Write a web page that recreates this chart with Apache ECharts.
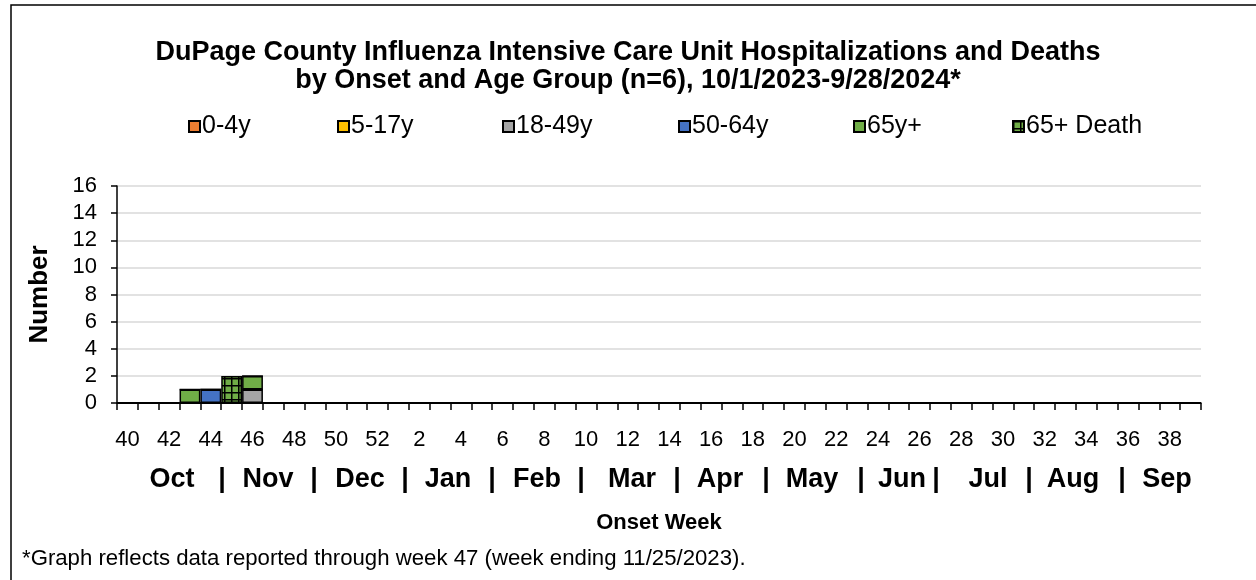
<!DOCTYPE html>
<html>
<head>
<meta charset="utf-8">
<script src="https://cdn.jsdelivr.net/npm/echarts@6/dist/echarts.min.js"></script>
<style>
  html, body { margin: 0; padding: 0; background: #fff; }
  #chart { width: 1256px; height: 580px; }
</style>
</head>
<body>
<div id="chart"></div>
<script>
// onset weeks, Oct 2023 (wk 40) to Sep 2024 (wk 39)
const weeks = [40, 41, 42, 43, 44, 45, 46, 47, 48, 49, 50, 51, 52,
  1, 2, 3, 4, 5, 6, 7, 8, 9, 10, 11, 12, 13, 14, 15, 16, 17, 18, 19, 20,
  21, 22, 23, 24, 25, 26, 27, 28, 29, 30, 31, 32, 33, 34, 35, 36, 37, 38, 39]

// counts per age group
const age0to4 = [0, 0, 0, 0, 0, 0, 0, 0, 0, 0, 0, 0, 0, 0, 0, 0, 0, 0, 0, 0, 0, 0, 0, 0, 0, 0,
  0, 0, 0, 0, 0, 0, 0, 0, 0, 0, 0, 0, 0, 0, 0, 0, 0, 0, 0, 0, 0, 0, 0, 0, 0, 0]
const age5to17 = [0, 0, 0, 0, 0, 0, 0, 0, 0, 0, 0, 0, 0, 0, 0, 0, 0, 0, 0, 0, 0, 0, 0, 0, 0, 0,
  0, 0, 0, 0, 0, 0, 0, 0, 0, 0, 0, 0, 0, 0, 0, 0, 0, 0, 0, 0, 0, 0, 0, 0, 0, 0]
const age18to49 = [0, 0, 0, 0, 0, 0, 1, 0, 0, 0, 0, 0, 0, 0, 0, 0, 0, 0, 0, 0, 0, 0, 0, 0, 0, 0,
  0, 0, 0, 0, 0, 0, 0, 0, 0, 0, 0, 0, 0, 0, 0, 0, 0, 0, 0, 0, 0, 0, 0, 0, 0, 0]
const age50to64 = [0, 0, 0, 0, 1, 0, 0, 0, 0, 0, 0, 0, 0, 0, 0, 0, 0, 0, 0, 0, 0, 0, 0, 0, 0, 0,
  0, 0, 0, 0, 0, 0, 0, 0, 0, 0, 0, 0, 0, 0, 0, 0, 0, 0, 0, 0, 0, 0, 0, 0, 0, 0]
const age65plus = [0, 0, 0, 1, 0, 0, 1, 0, 0, 0, 0, 0, 0, 0, 0, 0, 0, 0, 0, 0, 0, 0, 0, 0, 0, 0,
  0, 0, 0, 0, 0, 0, 0, 0, 0, 0, 0, 0, 0, 0, 0, 0, 0, 0, 0, 0, 0, 0, 0, 0, 0, 0]
const death65plus = [0, 0, 0, 0, 0, 2, 0, 0, 0, 0, 0, 0, 0, 0, 0, 0, 0, 0, 0, 0, 0, 0, 0, 0, 0, 0,
  0, 0, 0, 0, 0, 0, 0, 0, 0, 0, 0, 0, 0, 0, 0, 0, 0, 0, 0, 0, 0, 0, 0, 0, 0, 0]

const groupNames = ['0-4y', '5-17y', '18-49y', '50-64y', '65y+', '65+ Death']
const monthLabels = ['Oct', '|', 'Nov', '|', 'Dec', '|', 'Jan', '|', 'Feb', '|', 'Mar', '|',
  'Apr', '|', 'May', '|', 'Jun', '|', 'Jul', '|', 'Aug', '|', 'Sep']

// layout only
const monthX = [172, 222, 268, 314, 360, 405, 448, 492, 537, 581, 632, 677,
  720, 766, 812, 861, 902, 936, 988, 1029, 1073, 1122, 1167]
const legendX = [188, 337, 502, 678, 853, 1012]

const FONT = '"Liberation Sans", Arial, sans-serif'

// green with black grid for deaths
const makeGridPattern = () => {
  const c = document.createElement('canvas')
  c.width = 7
  c.height = 7
  const ctx = c.getContext('2d')
  ctx.fillStyle = '#70AD47'
  ctx.fillRect(0, 0, 7, 7)
  ctx.fillStyle = '#000'
  ctx.fillRect(0, 0, 7, 1.5)
  ctx.fillRect(0, 0, 1.5, 7)
  return c
}

const colors = ['#ED7D31', '#FFC000', '#A5A5A5', '#4472C4', '#70AD47',
  { image: makeGridPattern(), repeat: 'repeat' }]
const seriesData = [age0to4, age5to17, age18to49, age50to64, age65plus, death65plus]

const chart = echarts.init(document.getElementById('chart'))

const option = {
  animation: false,
  title: {
    text: 'DuPage County Influenza Intensive Care Unit Hospitalizations and Deaths\nby Onset and Age Group (n=6), 10/1/2023-9/28/2024*',
    left: 'center',
    top: 34,
    textStyle: { fontFamily: FONT, fontSize: 27, fontWeight: 'bold', color: '#000', lineHeight: 28 }
  },
  legend: groupNames.map((name, i) => ({
    data: [name],
    left: legendX[i],
    top: 114,
    padding: 0,
    itemWidth: 11,
    itemHeight: 11,
    icon: 'rect',
    textStyle: { fontFamily: FONT, fontSize: 25, lineHeight: 24, color: '#000', padding: [0, 0, 0, -3] }
  })),
  grid: { left: 117, right: 55, top: 186, bottom: 177 },
  xAxis: {
    type: 'category',
    data: weeks,
    axisLine: { lineStyle: { color: '#000', width: 1.5 } },
    axisTick: { show: true, interval: 0, length: 7, lineStyle: { color: '#000', width: 1.5 } },
    axisLabel: { interval: 1, margin: 26, fontFamily: FONT, fontSize: 22, color: '#000' },
    name: 'Onset Week',
    nameLocation: 'middle',
    nameGap: 109,
    nameTextStyle: { fontFamily: FONT, fontSize: 22, fontWeight: 'bold', color: '#000' }
  },
  yAxis: {
    type: 'value',
    min: 0,
    max: 16,
    interval: 2,
    axisLine: { show: true, lineStyle: { color: '#000', width: 1.5 } },
    axisTick: { show: true, length: 6, lineStyle: { color: '#000', width: 1.5 } },
    axisLabel: { margin: 20, fontFamily: FONT, fontSize: 22, color: '#000' },
    splitLine: { lineStyle: { color: '#D9D9D9', width: 1.5 } },
    name: 'Number',
    nameLocation: 'middle',
    nameGap: 64,
    nameTextStyle: { fontFamily: FONT, fontSize: 26, fontWeight: 'bold', color: '#000' }
  },
  series: groupNames.map((name, i) => ({
    name,
    type: 'bar',
    stack: 'total',
    barCategoryGap: '0%',
    data: seriesData[i],
    itemStyle: { color: colors[i], borderColor: '#000', borderWidth: 1.5 }
  })),
  graphic: [
    {
      type: 'polyline',
      shape: { points: [[11, 580], [11, 5], [1256, 5]] },
      style: { stroke: '#000', lineWidth: 1.5, fill: null }
    },
    ...monthLabels.map((m, i) => ({
      type: 'text',
      x: monthX[i],
      y: 480,
      style: {
        text: m, fontFamily: FONT, fontSize: 27, fontWeight: 'bold', fill: '#000',
        align: 'center', verticalAlign: 'middle'
      }
    })),
    {
      type: 'text',
      x: 22,
      y: 559,
      style: {
        text: '*Graph reflects data reported through week 47 (week ending 11/25/2023).',
        fontFamily: FONT, fontSize: 22.2, fill: '#000', verticalAlign: 'middle'
      }
    }
  ]
}

chart.setOption(option)
</script>
</body>
</html>
